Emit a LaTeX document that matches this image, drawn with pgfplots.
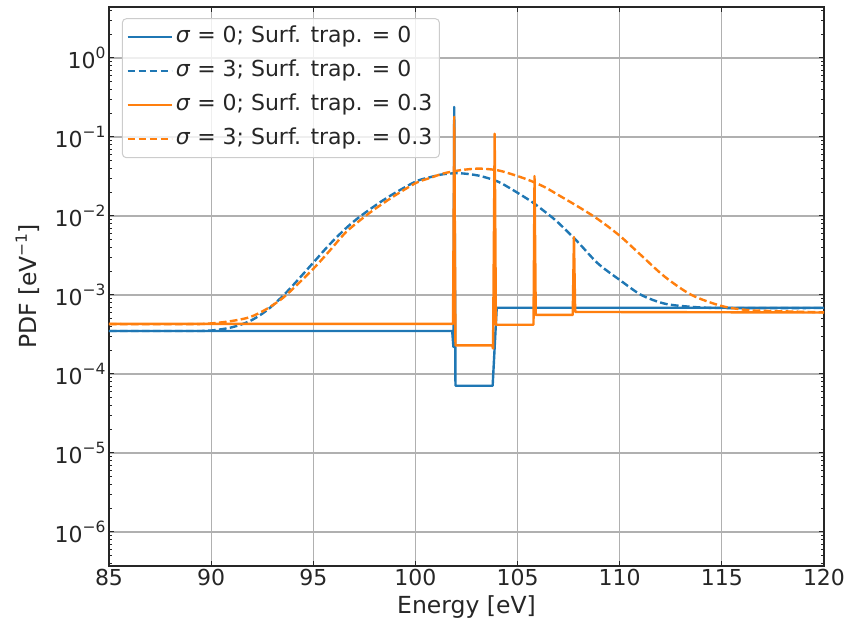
\documentclass[border=0pt]{standalone}
\usepackage{fontspec}
\setmainfont{DejaVu Sans}
\usepackage{pgfplots}
\pgfplotsset{compat=1.18}
\definecolor{mplblue}{HTML}{1F77B4}
\definecolor{mplorange}{HTML}{FF7F0E}
\definecolor{gridgray}{HTML}{B0B0B0}
\definecolor{legedge}{HTML}{CCCCCC}
\newcommand\sups[1]{\raisebox{0.42em}{\fontsize{15.5}{18}\selectfont #1}}
\begin{document}
\begin{tikzpicture}
\begin{axis}[
  scale only axis,
  width=715pt, height=559pt,
  xmin=85, xmax=120,
  ymode=log, ymin=3.71e-7, ymax=4.42,
  xtick={85,90,...,120},
  ytick={1e-6,1e-5,1e-4,1e-3,1e-2,1e-1,1},
  yticklabels={10\sups{−6},10\sups{−5},10\sups{−4},10\sups{−3},10\sups{−2},10\sups{−1},10\sups{0}},
  minor ytick={4e-7,5e-7,6e-7,7e-7,8e-7,9e-7,
    2e-6,3e-6,4e-6,5e-6,6e-6,7e-6,8e-6,9e-6,
    2e-5,3e-5,4e-5,5e-5,6e-5,7e-5,8e-5,9e-5,
    2e-4,3e-4,4e-4,5e-4,6e-4,7e-4,8e-4,9e-4,
    2e-3,3e-3,4e-3,5e-3,6e-3,7e-3,8e-3,9e-3,
    2e-2,3e-2,4e-2,5e-2,6e-2,7e-2,8e-2,9e-2,
    2e-1,3e-1,4e-1,5e-1,6e-1,7e-1,8e-1,9e-1,
    2,3,4},
  /pgf/number format/assume math mode=true,
  tick align=inside,
  major tick length=5pt, minor tick length=2.8pt,
  every tick/.style={black!85, line width=1pt},
  axis line style={black!85, line width=1.1pt},
  xmajorgrids, ymajorgrids,
  yminorgrids=false,
  major grid style={gridgray, line width=1.1pt},
  tick label style={font=\fontsize{22}{26}\selectfont, text=black!85},
  label style={font=\fontsize{23.5}{28}\selectfont, text=black!85},
  xlabel={Energy [eV]},
  ylabel={PDF [eV\sups{−1}]},
  xlabel shift=3pt,
  ylabel shift=8pt,
  legend style={at={(0.018,0.98)}, anchor=north west,
    font=\fontsize{22}{26}\selectfont, text=black!85,
    draw=legedge, line width=1pt, rounded corners=4pt,
    fill=white, fill opacity=0.8, text opacity=1,
    row sep=7pt, inner xsep=4pt, inner ysep=5pt,
    nodes={inner sep=3pt, text height=16pt, text depth=5pt}},
  legend cell align=left,
  legend image code/.code={\draw[#1] (0pt,0pt) -- (44pt,0pt);},
]
% sigma = 0; trap = 0
\addplot[mplblue, line width=2.4pt, line join=round] coordinates {
(85,3.5e-4) (101.8,3.5e-4) (101.86,2.2e-4) (101.9,0.24) (101.96,7.1e-5)
(103.78,7.1e-5) (103.98,6.9e-4) (120,6.9e-4)};
\addlegendentry{\textit{σ} = 0; Surf. trap. = 0}
% sigma = 3; trap = 0
\addplot[mplblue, line width=2.4pt, smooth, tension=0.5, dash pattern=on 7.7pt off 3.3pt] coordinates {
(85,3.50e-4) (89,3.50e-4) (90,3.55e-4) (91,3.89e-4) (91.9,4.68e-4)
(92.7,6.31e-4) (93.4,9.12e-4) (94.0,1.32e-3) (95.07,2.69e-3) (95.8,4.37e-3)
(96.62,7.08e-3) (97.27,9.77e-3) (98.25,1.48e-2) (99.06,2.00e-2) (100.04,2.75e-2)
(100.7,3.09e-2) (101.4,3.39e-2) (102.2,3.47e-2) (103.1,3.24e-2) (104,2.75e-2)
(104.7,2.19e-2) (105.7,1.51e-2) (106.4,1.10e-2) (106.97,8.32e-3) (107.95,4.68e-3)
(108.93,2.51e-3) (110,1.55e-3) (111.06,1.00e-3) (112.21,7.76e-4) (113.52,7.08e-4)
(115,6.84e-4) (120,6.84e-4)};
\addlegendentry{\textit{σ} = 3; Surf. trap. = 0}
% sigma = 0; trap = 0.3
\addplot[mplorange, line width=2.4pt, line join=round] coordinates {
(85,4.3e-4) (101.84,4.3e-4) (101.9,0.18) (101.96,2.3e-4) (103.76,2.3e-4)
(103.8,2.1e-4) (103.88,0.11) (103.94,4.2e-4) (105.78,4.2e-4) (105.83,0.032)
(105.89,5.6e-4) (107.7,5.6e-4) (107.76,5.4e-3) (107.82,6.1e-4) (120,6.0e-4)};
\addlegendentry{\textit{σ} = 0; Surf. trap. = 0.3}
% sigma = 3; trap = 0.3
\addplot[mplorange, line width=2.4pt, smooth, tension=0.5, dash pattern=on 7.7pt off 3.3pt] coordinates {
(85,4.27e-4) (89,4.27e-4) (90,4.37e-4) (91,4.68e-4) (91.9,5.25e-4)
(92.7,6.61e-4) (93.5,9.12e-4) (94.25,1.38e-3) (95.07,2.24e-3) (95.8,3.63e-3)
(96.62,6.31e-3) (97.6,1.02e-2) (98.25,1.35e-2) (99.06,1.86e-2) (100.04,2.63e-2)
(100.7,3.02e-2) (101.4,3.47e-2) (102.2,3.80e-2) (103.1,3.98e-2) (104,3.80e-2)
(104.7,3.39e-2) (105.5,2.88e-2) (106.3,2.34e-2) (106.97,1.86e-2) (107.95,1.32e-2)
(108.93,9.12e-3) (110,5.62e-3) (111.06,3.16e-3) (112.21,1.70e-3) (113.52,1.00e-3)
(115,7.24e-4) (116.2,6.46e-4) (117,6.31e-4) (120,6.03e-4)};
\addlegendentry{\textit{σ} = 3; Surf. trap. = 0.3}
\end{axis}
\pgfresetboundingbox
\path (current axis.south west) ++(-109pt,-60pt) rectangle ++(849pt,626pt);
\end{tikzpicture}
\end{document}
